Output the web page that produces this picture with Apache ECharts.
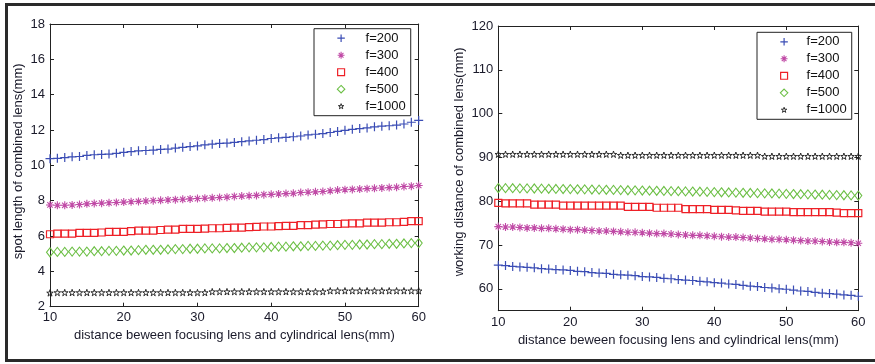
<!DOCTYPE html>
<html>
<head>
<meta charset="utf-8">
<script src="https://cdn.jsdelivr.net/npm/echarts@6/dist/echarts.min.js"></script>
<style>
  html, body { margin: 0; padding: 0; background: #fff; }
  #main { width: 875px; height: 364px; }
</style>
</head>
<body>
<div id="main"></div>
<script>
// distance between focusing lens and cylindrical lens (mm)
var distance = [10,11,12,13,14,15,16,17,18,19,20,21,22,23,24,25,26,27,28,29,30,31,32,33,34,35,
  36,37,38,39,40,41,42,43,44,45,46,47,48,49,50,51,52,53,54,55,56,57,58,59,60];

var seriesNames = ['f=200', 'f=300', 'f=400', 'f=500', 'f=1000'];

// spot length of combined lens (mm)
var spot200 = [10.38,10.40,10.44,10.48,10.50,10.56,10.60,10.62,10.64,10.68,10.74,10.78,10.82,10.84,10.86,10.90,10.92,
  10.98,11.02,11.06,11.10,11.16,11.20,11.24,11.26,11.30,11.34,11.38,11.42,11.46,11.52,11.56,11.58,11.62,11.66,
  11.72,11.76,11.80,11.86,11.92,11.98,12.04,12.08,12.12,12.18,12.22,12.24,12.28,12.34,12.44,12.54];
var spot300 = [7.76,7.74,7.74,7.76,7.78,7.82,7.84,7.86,7.88,7.90,7.92,7.94,7.96,7.98,8.00,8.02,8.04,8.06,8.08,8.10,
  8.12,8.14,8.16,8.18,8.20,8.24,8.26,8.28,8.30,8.34,8.36,8.38,8.40,8.42,8.46,8.48,8.50,8.52,8.56,8.60,8.62,8.64,
  8.66,8.68,8.70,8.72,8.74,8.76,8.80,8.82,8.86];
var spot400 = [6.10,6.14,6.14,6.14,6.18,6.18,6.18,6.20,6.24,6.24,6.24,6.28,6.30,6.30,6.30,6.34,6.36,6.36,6.40,6.40,
  6.40,6.42,6.44,6.44,6.46,6.48,6.48,6.50,6.52,6.54,6.54,6.56,6.58,6.58,6.62,6.62,6.64,6.66,6.68,6.68,6.70,6.72,
  6.72,6.76,6.76,6.76,6.78,6.78,6.80,6.84,6.84];
var spot500 = [5.08,5.10,5.10,5.12,5.12,5.12,5.14,5.14,5.16,5.16,5.18,5.18,5.20,5.22,5.22,5.22,5.24,5.26,5.26,5.28,
  5.28,5.30,5.30,5.30,5.32,5.32,5.34,5.36,5.36,5.36,5.38,5.40,5.40,5.42,5.42,5.44,5.44,5.46,5.46,5.48,5.50,5.50,
  5.52,5.52,5.54,5.54,5.56,5.56,5.58,5.60,5.60];
var spot1000 = [2.78,2.80,2.80,2.80,2.80,2.80,2.80,2.80,2.80,2.80,2.80,2.80,2.80,2.80,2.80,2.80,2.80,2.80,2.80,2.80,
  2.80,2.80,2.85,2.85,2.85,2.85,2.85,2.85,2.85,2.85,2.85,2.85,2.85,2.85,2.85,2.85,2.85,2.85,2.90,2.90,2.90,2.90,
  2.90,2.90,2.90,2.90,2.90,2.90,2.90,2.90,2.90];

// working distance of combined lens (mm)
var work200 = [65.4,65.3,65.1,65.0,64.9,64.8,64.6,64.5,64.4,64.3,64.2,64.0,63.9,63.7,63.6,63.5,63.3,63.2,63.1,63.0,
  62.8,62.7,62.6,62.4,62.3,62.1,62.0,61.9,61.7,61.6,61.4,61.3,61.1,61.0,60.8,60.6,60.5,60.3,60.2,60.0,59.9,59.7,
  59.5,59.4,59.2,59.0,58.9,58.8,58.6,58.5,58.3];
var work300 = [74.2,74.1,74.1,74.0,73.9,73.9,73.8,73.8,73.7,73.6,73.5,73.5,73.4,73.3,73.2,73.2,73.1,73.0,72.9,72.9,
  72.8,72.7,72.6,72.6,72.5,72.4,72.3,72.2,72.2,72.1,72.0,71.9,71.8,71.8,71.7,71.6,71.5,71.4,71.3,71.3,71.2,71.1,
  71.0,70.9,70.9,70.8,70.7,70.6,70.6,70.5,70.4];
var work400 = [79.6,79.5,79.5,79.5,79.5,79.2,79.2,79.2,79.2,79.0,79.0,79.0,79.0,79.0,79.0,79.0,79.0,79.0,78.7,78.7,
  78.7,78.7,78.5,78.5,78.5,78.5,78.2,78.2,78.2,78.2,78.0,78.0,78.0,77.9,77.8,77.8,77.8,77.6,77.6,77.6,77.6,77.5,
  77.5,77.5,77.5,77.5,77.5,77.4,77.3,77.3,77.3];
var work500 = [83.0,82.98,82.96,82.94,82.92,82.9,82.86,82.84,82.8,82.78,82.76,82.72,82.7,82.66,82.64,82.6,82.58,82.54,
  82.5,82.48,82.44,82.4,82.38,82.34,82.3,82.28,82.24,82.2,82.16,82.12,82.08,82.04,82.0,81.96,81.92,81.88,81.84,
  81.8,81.76,81.72,81.68,81.64,81.6,81.56,81.52,81.48,81.44,81.4,81.36,81.32,81.28];
var work1000 = [90.72,90.72,90.72,90.72,90.72,90.72,90.72,90.72,90.72,90.72,90.72,90.72,90.72,90.72,90.72,90.72,90.72,
  90.49,90.49,90.49,90.49,90.49,90.49,90.49,90.49,90.49,90.49,90.49,90.49,90.49,90.49,90.49,90.49,90.49,90.49,
  90.49,90.49,90.26,90.26,90.26,90.26,90.26,90.26,90.26,90.26,90.26,90.26,90.26,90.26,90.26,90.26];

var workTicks = [60, 70, 80, 90, 100, 110, 120];

var FONT = 'Liberation Sans, Arial, Helvetica, sans-serif';
var colors = ['#3b4db5', '#c04aa6', '#ee2027', '#6cbf45', '#1a1a1a'];
var starPath = 'M5,0L6.12,3.45L9.76,3.45L6.82,5.59L7.94,9.05L5,6.91L2.06,9.05L3.18,5.59L0.24,3.45L3.88,3.45Z';
var symbols = [
  'path://M5,0L5,10M0,5L10,5',
  'path://M5,0L5,10M0,5L10,5M1.6,1.6L8.4,8.4M8.4,1.6L1.6,8.4',
  'rect',
  'diamond',
  'path://' + starPath
];
// legend icons: same shapes, padded so they come out as small as in the plot
var legendIcons = [
  'path://M-1,-1M5,0L5,10M0,5L10,5M11,11',
  'path://M-1.5,-1.5M5,0L5,10M0,5L10,5M1.6,1.6L8.4,8.4M8.4,1.6L1.6,8.4M11.5,11.5',
  'path://M-1.5,-1.5M0,0L10,0L10,10L0,10Z M11.5,11.5',
  'path://M-1,-1M5,0L10,5L5,10L0,5Z M11,11',
  'path://M-3,-3M13,12' + starPath
];
var sizes = [[9, 9], [8, 8], [7, 7], [7, 9], [6.5, 6.5]];
var strokes = [1.2, 1.1, 1.2, 1.1, 0.9];

function pairs(ys) {
  return distance.map(function (x, i) { return [x, ys[i]]; });
}

function axisBase(grid) {
  return {
    gridIndex: grid,
    type: 'value',
    axisLine: { show: true, onZero: false, lineStyle: { color: '#222', width: 1 } },
    axisTick: { show: true, inside: true, length: 4, lineStyle: { color: '#222' } },
    splitLine: { show: false },
    axisLabel: { color: '#1a1a2a', fontSize: 13, fontFamily: FONT },
    nameLocation: 'middle',
    nameTextStyle: { color: '#1a1a2a', fontSize: 13, fontFamily: FONT }
  };
}

function xAxisFor(grid, pos, named, margin) {
  var a = axisBase(grid);
  a.position = pos;
  a.min = 10; a.max = 60; a.interval = 10;
  if (named) {
    a.name = 'distance beween focusing lens and cylindrical lens(mm)';
    a.nameGap = 20;
    a.axisLabel.margin = margin;
  } else {
    a.axisLabel.show = false;
  }
  return a;
}

// left panel
var yl = axisBase(0);
yl.position = 'left'; yl.min = 2; yl.max = 18; yl.interval = 2;
yl.name = 'spot length of combined lens(mm)'; yl.nameGap = 25;
yl.nameTextStyle.padding = [0, 0, 0, 8];
yl.axisLabel.margin = 5;
var yl2 = axisBase(0);
yl2.position = 'right'; yl2.min = 2; yl2.max = 18; yl2.interval = 2; yl2.axisLabel.show = false;
// right panel
var yr = axisBase(1);
yr.position = 'left'; yr.min = 55; yr.max = 120;
yr.axisLabel.customValues = workTicks; yr.axisTick.customValues = workTicks;
yr.name = 'working distance of combined lens(mm)'; yr.nameGap = 32;
yr.nameTextStyle.padding = [0, 0, 0, 13];
yr.axisLabel.margin = 5;
var yr2 = axisBase(1);
yr2.position = 'right'; yr2.min = 55; yr2.max = 120;
yr2.axisTick.customValues = workTicks; yr2.axisLabel.show = false;
var yAxes = [yl, yl2, yr, yr2];

var xAxes = [xAxisFor(0, 'bottom', true, 4), xAxisFor(0, 'top', false), xAxisFor(1, 'bottom', true, 5), xAxisFor(1, 'top', false)];
xAxes[2].nameGap = 21;

var spotData = [spot200, spot300, spot400, spot500, spot1000];
var workData = [work200, work300, work400, work500, work1000];

var series = [];
[spotData, workData].forEach(function (set, g) {
  set.forEach(function (ys, i) {
    series.push({
      name: seriesNames[i],
      type: 'scatter',
      xAxisIndex: g * 2,
      yAxisIndex: g * 2,
      symbol: symbols[i],
      symbolSize: sizes[i],
      silent: true,
      itemStyle: { color: 'rgba(0,0,0,0)', borderColor: colors[i], borderWidth: strokes[i], opacity: 1 },
      data: pairs(ys)
    });
  });
});

function legendFor(left, top, textPad) {
  return {
    orient: 'vertical',
    left: left,
    top: top,
    data: seriesNames.map(function (n, i) {
      return {
        name: n,
        icon: legendIcons[i],
        itemStyle: { color: 'rgba(0,0,0,0)', borderColor: colors[i], borderWidth: strokes[i] }
      };
    }),
    itemWidth: 9,
    itemHeight: 9,
    itemGap: 4,
    padding: [3, 5, 3, 22],
    borderColor: '#222',
    borderWidth: 1,
    selectedMode: false,
    textStyle: { color: '#111', fontSize: 13, fontFamily: FONT, lineHeight: 13, padding: [0, 0, 0, textPad] }
  };
}

var chart = echarts.init(document.getElementById('main'), null, { renderer: 'canvas' });
chart.setOption({
  backgroundColor: '#fff',
  animation: false,
  grid: [
    { left: 50, top: 24, width: 368.7, height: 282.7 },
    { left: 498.3, top: 26, width: 360, height: 284.7 }
  ],
  xAxis: xAxes,
  yAxis: yAxes,
  legend: [legendFor(314, 28.7, 15), legendFor(757, 32.3, 13)],
  graphic: [
    { type: 'rect', shape: { x: 5, y: 3, width: 870, height: 3 }, style: { fill: '#2a2a2a' }, silent: true },
    { type: 'rect', shape: { x: 5, y: 359, width: 870, height: 3 }, style: { fill: '#2a2a2a' }, silent: true },
    { type: 'rect', shape: { x: 5, y: 3, width: 3, height: 359 }, style: { fill: '#2a2a2a' }, silent: true }
  ],
  series: series
});
</script>
</body>
</html>
